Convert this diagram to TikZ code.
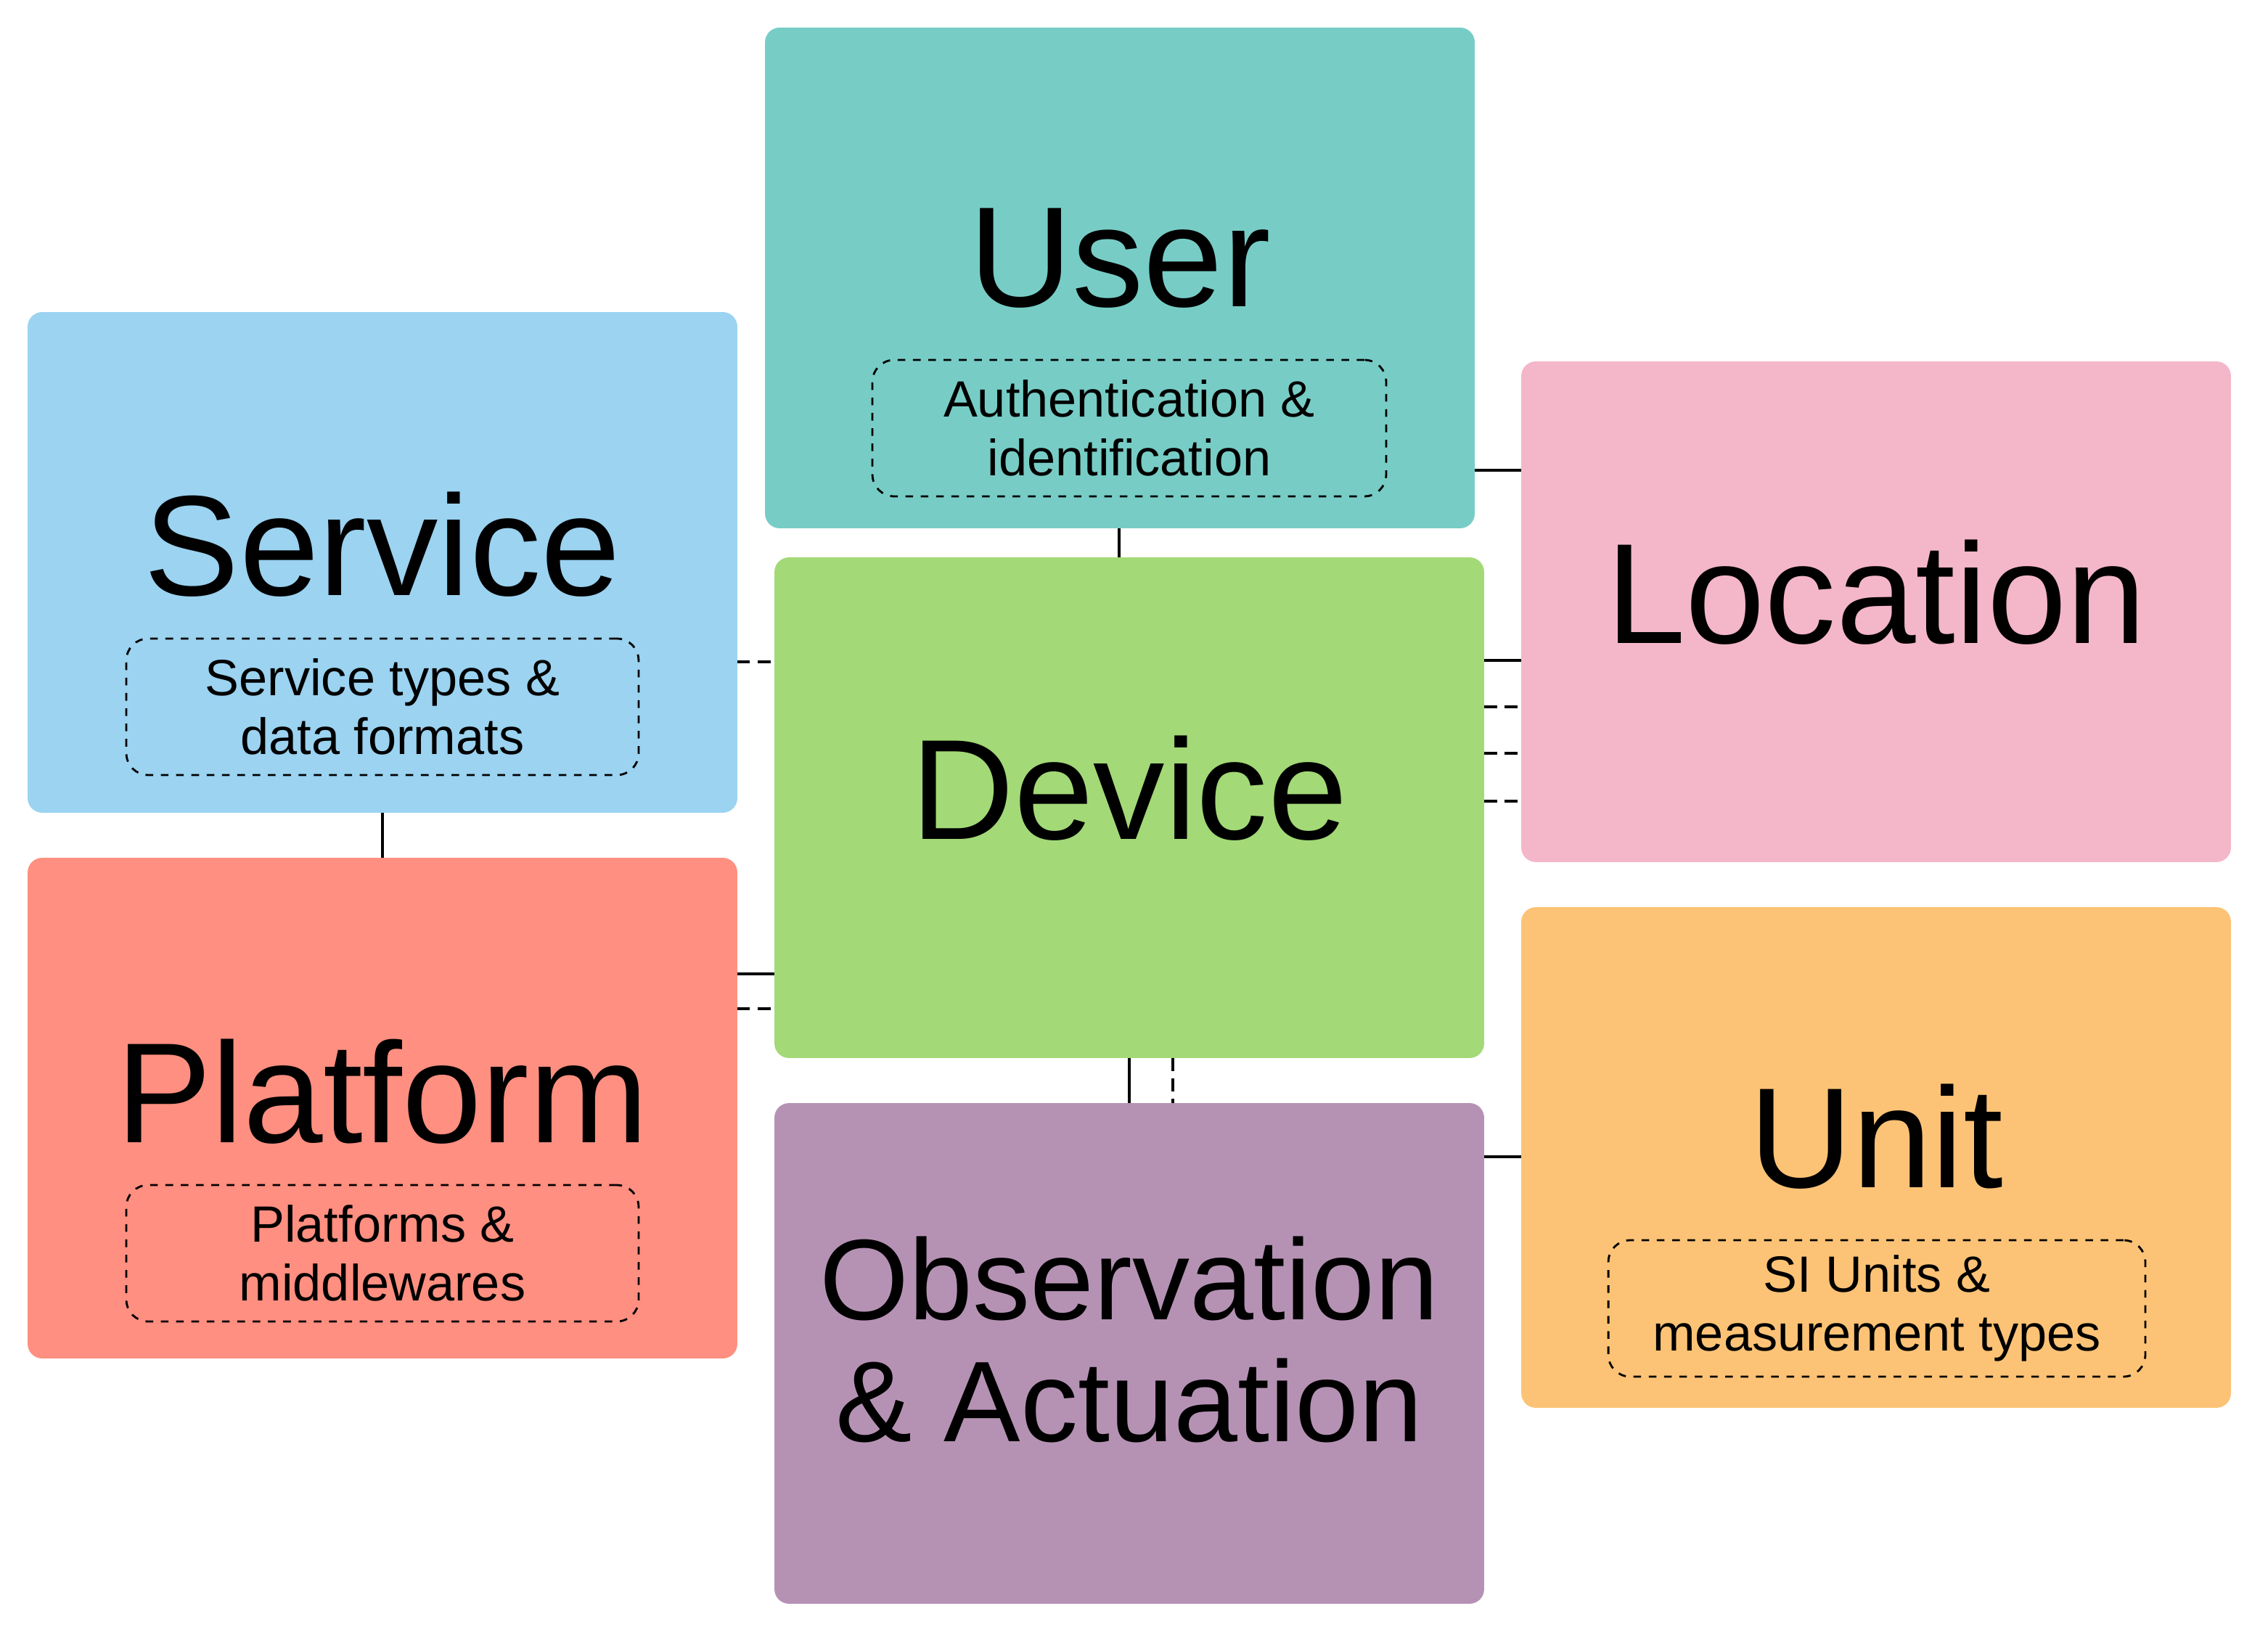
\documentclass[tikz,border=0pt]{standalone}
\usepackage{fontspec}
\setmainfont{Liberation Sans}
\usetikzlibrary{positioning}
\definecolor{cuser}{HTML}{77CDC6}
\definecolor{cservice}{HTML}{9BD3F1}
\definecolor{clocation}{HTML}{F4B6C9}
\definecolor{cdevice}{HTML}{A3D977}
\definecolor{cplatform}{HTML}{FF8F80}
\definecolor{cobs}{HTML}{B592B4}
\definecolor{cunit}{HTML}{FCC376}
\begin{document}
\begin{tikzpicture}[x=0.02cm,y=0.02cm,
        box/.style={rectangle, rounded corners=0.2cm, minimum width=9.78cm, minimum height=6.9cm, inner sep=0pt, outer sep=0pt},
        big/.style={font=\fontsize{56}{62}\selectfont},
        mid/.style={font=\fontsize{45}{52}\selectfont, align=center},
        tag/.style={draw, dashed, line width=0.8pt, rounded corners=0.3cm, inner sep=0pt, outer sep=0pt, minimum height=1.88cm, align=center, font=\fontsize{20}{23}\selectfont},
        link/.style={line width=0.9pt},
        dlink/.style={line width=0.9pt, dash pattern=on 5pt off 3pt}]
        \useasboundingbox (0,0) rectangle (1562.5,-1121);
        % boxes
        \node[box, fill=cuser    ] (user)     at (771.5,-191.5) {};
        \node[box, fill=cservice ] (service)  at (263.5,-387.5) {};
        \node[box, fill=clocation] (location) at (1292.5,-421.5) {};
        \node[box, fill=cdevice  ] (device)   at (778,-556.5) {};
        \node[box, fill=cplatform] (platform) at (263.5,-763.5) {};
        \node[box, fill=cobs     ] (obs)      at (778,-932.5) {};
        \node[box, fill=cunit    ] (unit)     at (1292.5,-797.5) {};
        % titles
        \node[big] (userT)     at (771.5,-178) {User};
        \node[big] (serviceT)  at (263.5,-375) {Service};
        \node[big] (locationT) at (1292.5,-408) {Location};
        \node[big] (deviceT)   at (778,-543) {Device};
        \node[big] (platformT) at (263.5,-752) {Platform};
        \node[big] (unitT)     at (1292.5,-783) {Unit};
        \node[mid] (obsT)      at (778,-923) {Observation\\[-4pt]\& Actuation};
        % dashed tags
        \node[tag, minimum width=7.08cm] (userL)     at (778,-295)  {Authentication \&\\identification};
        \node[tag, minimum width=7.06cm] (serviceL)  at (263.5,-487) {Service types \&\\data formats};
        \node[tag, minimum width=7.06cm] (platformL) at (263.5,-863.5) {Platforms \&\\middlewares};
        \node[tag, minimum width=7.4cm]  (unitL)     at (1293,-901.5) {SI Units \&\\measurement types};
        % connectors
        \draw[link]  (user.south -| 771,0) -- (device.north -| 771,0);
        \draw[link]  (user.east |- 0,-324) -- (location.west |- 0,-324);
        \draw[dlink] (service.east |- 0,-456) -- (device.west |- 0,-456);
        \draw[link]  (service.south) -- (platform.north);
        \draw[link]  (device.east |- 0,-455) -- (location.west |- 0,-455);
        \foreach \y in {487,519,552}
          \draw[dlink] (device.east |- 0,-\y) -- (location.west |- 0,-\y);
        \draw[link]  (platform.east |- 0,-671) -- (device.west |- 0,-671);
        \draw[dlink] (platform.east |- 0,-695) -- (device.west |- 0,-695);
        \draw[link]  (device.south -| 778,0) -- (obs.north -| 778,0);
        \draw[dlink] (device.south -| 808,0) -- (obs.north -| 808,0);
        \draw[link]  (obs.east |- 0,-797) -- (unit.west |- 0,-797);
\end{tikzpicture}
\end{document}
